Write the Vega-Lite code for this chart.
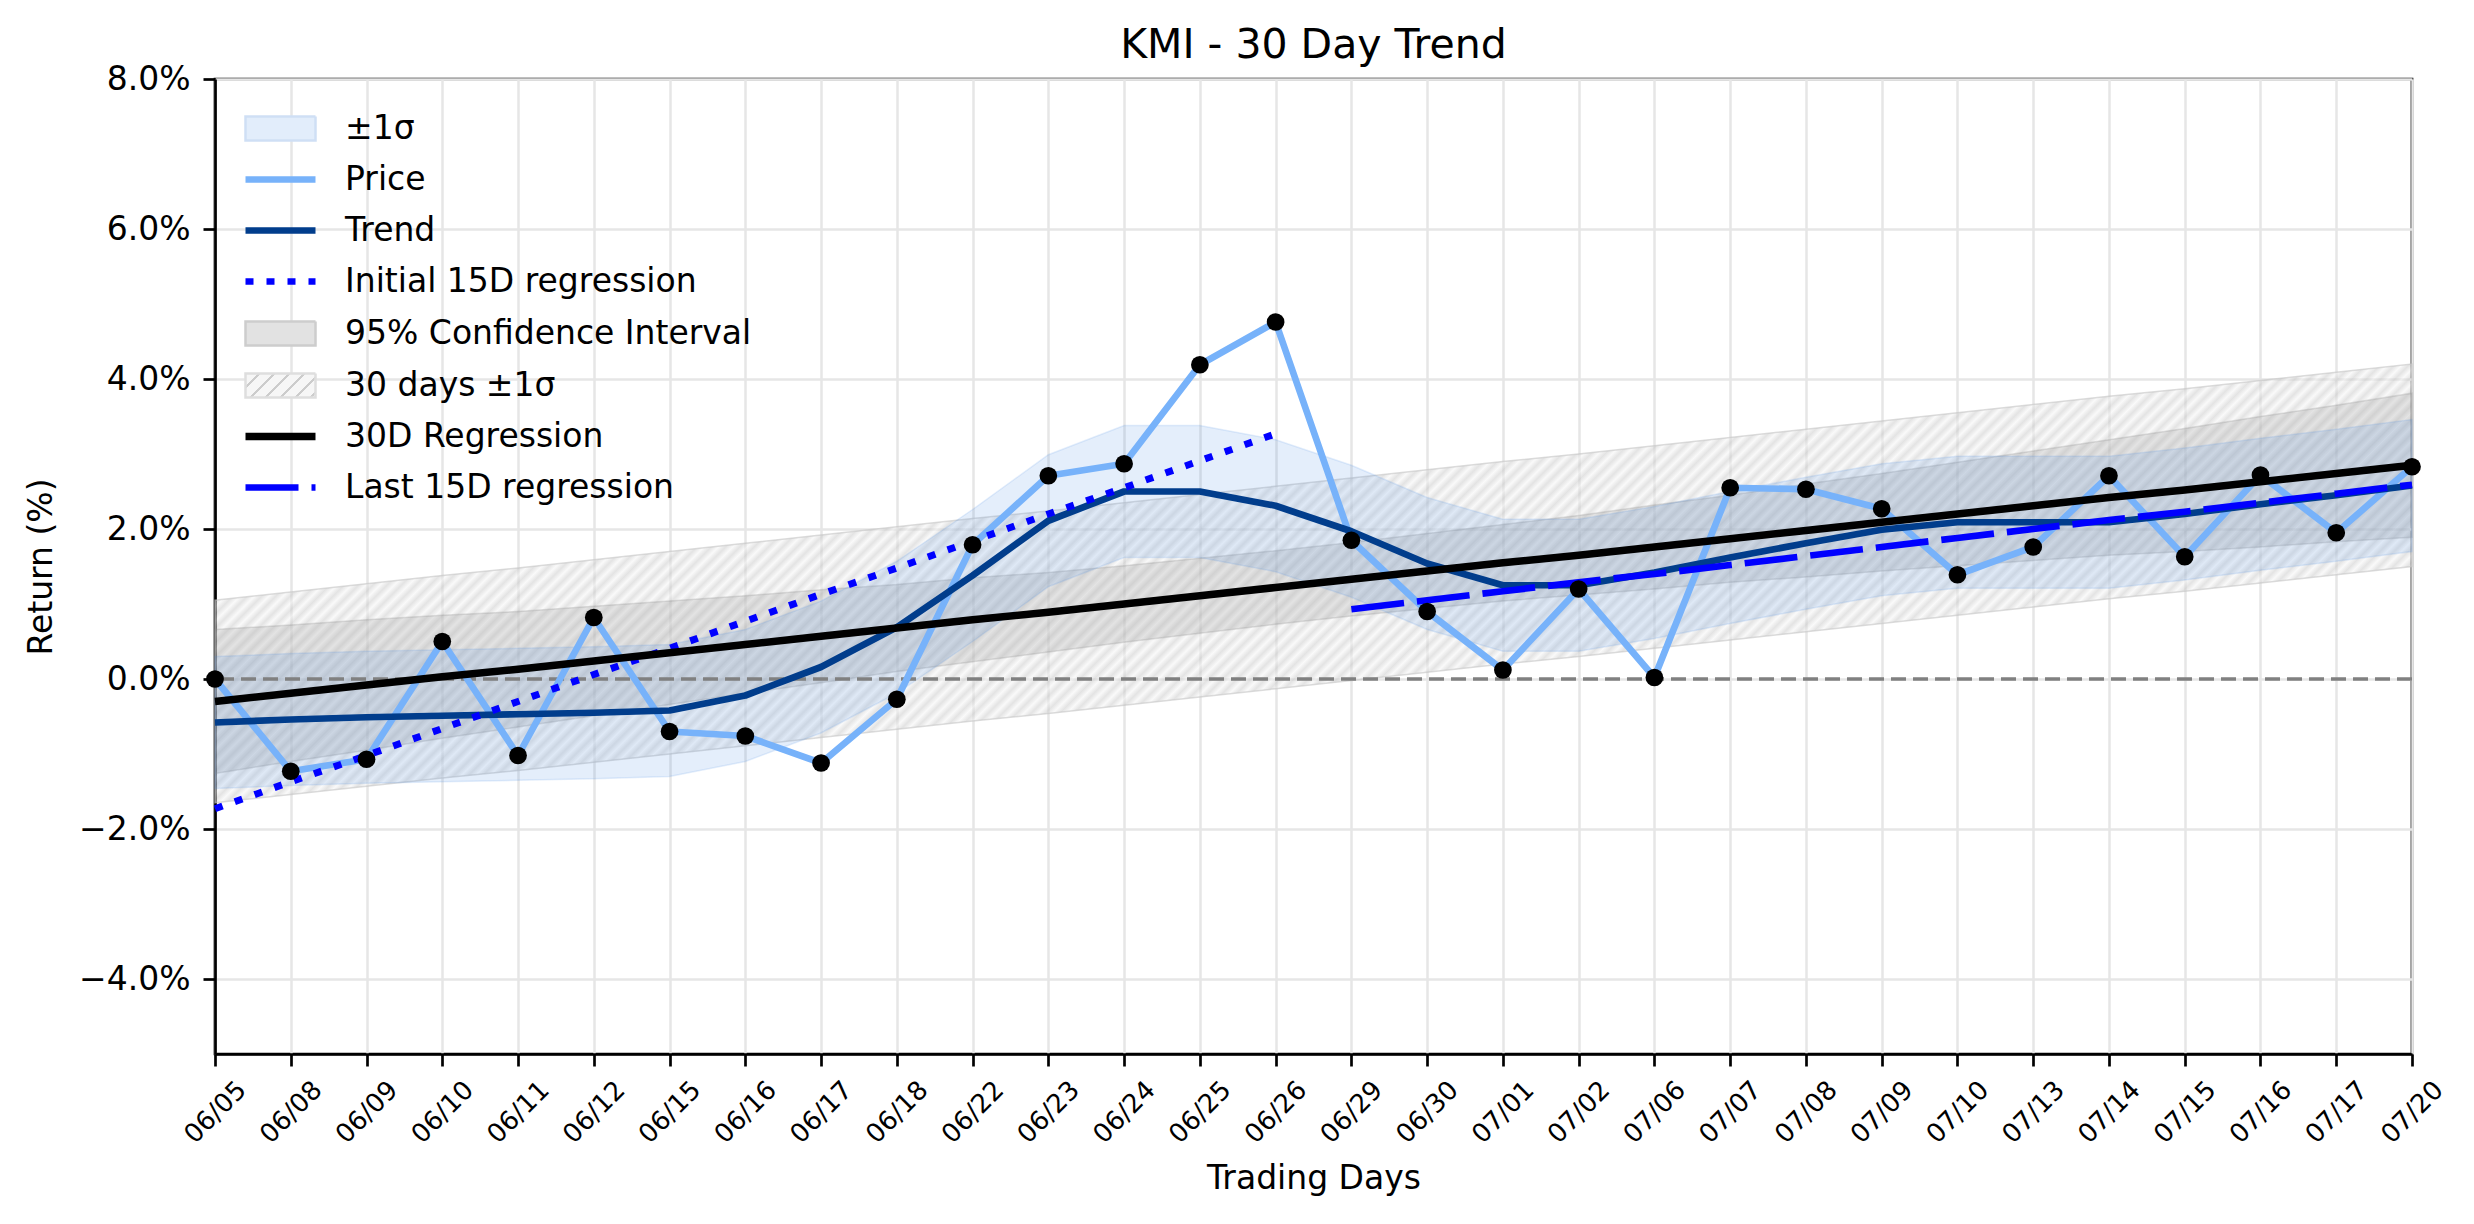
{
  "$schema": "https://vega.github.io/schema/vega-lite/v6.json",
  "width": 2197,
  "height": 975,
  "autosize": {"type": "none"},
  "padding": {"left": 215, "top": 79, "right": 62, "bottom": 170},
  "background": "white",
  "title": {"text": "KMI - 30 Day Trend", "frame": "group", "anchor": "middle", "fontSize": 41, "font": "DejaVu Sans", "fontWeight": "normal", "color": "black", "baseline": "alphabetic", "offset": 21, "dy": 57},
  "config": {
    "view": {"stroke": "black", "strokeWidth": 2.7},
    "font": "DejaVu Sans",
    "axis": {"labelFont": "DejaVu Sans", "titleFont": "DejaVu Sans", "labelColor": "black", "titleColor": "black", "titleFontWeight": "normal", "titleFontSize": 33, "tickColor": "black", "tickWidth": 2.7, "tickSize": 12, "domainColor": "black", "domainWidth": 2.7, "gridColor": "#e6e6e6", "gridWidth": 2.5, "grid": true},
    "axisX": {"labelFontSize": 26, "labelAngle": -45, "labelAlign": "center", "labelBaseline": "middle", "labelPadding": 46, "titlePadding": 15, "labelOverlap": false, "labelFlush": false},
    "axisY": {"labelFontSize": 33, "labelPadding": 13, "titlePadding": 20}
  },
  "data": {"values": [
    {"date":"06/05","price":0.00,"trend":-0.58,"sdlo":-1.46,"sdhi":0.30,"reg":-0.30,"cilo":-1.26,"cihi":0.66,"hlo":-1.65,"hhi":1.05,"init":-1.73,"last":null},
    {"date":"06/08","price":-1.23,"trend":-0.54,"sdlo":-1.42,"sdhi":0.34,"reg":-0.19,"cilo":-1.10,"cihi":0.72,"hlo":-1.54,"hhi":1.16,"init":-1.37,"last":null},
    {"date":"06/09","price":-1.07,"trend":-0.51,"sdlo":-1.39,"sdhi":0.37,"reg":-0.08,"cilo":-0.95,"cihi":0.79,"hlo":-1.43,"hhi":1.27,"init":-1.02,"last":null},
    {"date":"06/10","price":0.50,"trend":-0.49,"sdlo":-1.37,"sdhi":0.39,"reg":0.03,"cilo":-0.79,"cihi":0.85,"hlo":-1.32,"hhi":1.38,"init":-0.66,"last":null},
    {"date":"06/11","price":-1.02,"trend":-0.47,"sdlo":-1.35,"sdhi":0.41,"reg":0.13,"cilo":-0.64,"cihi":0.90,"hlo":-1.22,"hhi":1.48,"init":-0.30,"last":null},
    {"date":"06/12","price":0.82,"trend":-0.45,"sdlo":-1.33,"sdhi":0.43,"reg":0.24,"cilo":-0.49,"cihi":0.97,"hlo":-1.11,"hhi":1.59,"init":0.06,"last":null},
    {"date":"06/15","price":-0.70,"trend":-0.42,"sdlo":-1.30,"sdhi":0.46,"reg":0.35,"cilo":-0.34,"cihi":1.04,"hlo":-1.00,"hhi":1.70,"init":0.41,"last":null},
    {"date":"06/16","price":-0.76,"trend":-0.22,"sdlo":-1.10,"sdhi":0.66,"reg":0.46,"cilo":-0.19,"cihi":1.11,"hlo":-0.89,"hhi":1.81,"init":0.77,"last":null},
    {"date":"06/17","price":-1.12,"trend":0.16,"sdlo":-0.72,"sdhi":1.04,"reg":0.57,"cilo":-0.05,"cihi":1.19,"hlo":-0.78,"hhi":1.92,"init":1.13,"last":null},
    {"date":"06/18","price":-0.27,"trend":0.69,"sdlo":-0.19,"sdhi":1.57,"reg":0.68,"cilo":0.10,"cihi":1.26,"hlo":-0.67,"hhi":2.03,"init":1.48,"last":null},
    {"date":"06/22","price":1.79,"trend":1.38,"sdlo":0.50,"sdhi":2.26,"reg":0.79,"cilo":0.23,"cihi":1.35,"hlo":-0.56,"hhi":2.14,"init":1.84,"last":null},
    {"date":"06/23","price":2.71,"trend":2.11,"sdlo":1.23,"sdhi":2.99,"reg":0.89,"cilo":0.36,"cihi":1.42,"hlo":-0.46,"hhi":2.24,"init":2.20,"last":null},
    {"date":"06/24","price":2.87,"trend":2.50,"sdlo":1.62,"sdhi":3.38,"reg":1.00,"cilo":0.49,"cihi":1.51,"hlo":-0.35,"hhi":2.35,"init":2.55,"last":null},
    {"date":"06/25","price":4.19,"trend":2.50,"sdlo":1.62,"sdhi":3.38,"reg":1.11,"cilo":0.61,"cihi":1.61,"hlo":-0.24,"hhi":2.46,"init":2.91,"last":null},
    {"date":"06/26","price":4.76,"trend":2.31,"sdlo":1.43,"sdhi":3.19,"reg":1.22,"cilo":0.73,"cihi":1.71,"hlo":-0.13,"hhi":2.57,"init":3.27,"last":null},
    {"date":"06/29","price":1.85,"trend":1.97,"sdlo":1.09,"sdhi":2.85,"reg":1.33,"cilo":0.84,"cihi":1.82,"hlo":-0.02,"hhi":2.68,"init":null,"last":0.93},
    {"date":"06/30","price":0.90,"trend":1.54,"sdlo":0.66,"sdhi":2.42,"reg":1.44,"cilo":0.94,"cihi":1.94,"hlo":0.09,"hhi":2.79,"init":null,"last":1.05},
    {"date":"07/01","price":0.12,"trend":1.25,"sdlo":0.37,"sdhi":2.13,"reg":1.55,"cilo":1.04,"cihi":2.06,"hlo":0.20,"hhi":2.90,"init":null,"last":1.17},
    {"date":"07/02","price":1.20,"trend":1.25,"sdlo":0.37,"sdhi":2.13,"reg":1.65,"cilo":1.12,"cihi":2.18,"hlo":0.30,"hhi":3.00,"init":null,"last":1.29},
    {"date":"07/06","price":0.02,"trend":1.42,"sdlo":0.54,"sdhi":2.30,"reg":1.76,"cilo":1.20,"cihi":2.32,"hlo":0.41,"hhi":3.11,"init":null,"last":1.40},
    {"date":"07/07","price":2.55,"trend":1.62,"sdlo":0.74,"sdhi":2.50,"reg":1.87,"cilo":1.29,"cihi":2.45,"hlo":0.52,"hhi":3.22,"init":null,"last":1.52},
    {"date":"07/08","price":2.53,"trend":1.81,"sdlo":0.93,"sdhi":2.69,"reg":1.98,"cilo":1.36,"cihi":2.60,"hlo":0.63,"hhi":3.33,"init":null,"last":1.64},
    {"date":"07/09","price":2.27,"trend":1.99,"sdlo":1.11,"sdhi":2.87,"reg":2.09,"cilo":1.44,"cihi":2.74,"hlo":0.74,"hhi":3.44,"init":null,"last":1.76},
    {"date":"07/10","price":1.39,"trend":2.09,"sdlo":1.21,"sdhi":2.97,"reg":2.20,"cilo":1.51,"cihi":2.89,"hlo":0.85,"hhi":3.55,"init":null,"last":1.88},
    {"date":"07/13","price":1.76,"trend":2.09,"sdlo":1.21,"sdhi":2.97,"reg":2.31,"cilo":1.58,"cihi":3.04,"hlo":0.96,"hhi":3.66,"init":null,"last":2.00},
    {"date":"07/14","price":2.71,"trend":2.09,"sdlo":1.21,"sdhi":2.97,"reg":2.42,"cilo":1.65,"cihi":3.19,"hlo":1.07,"hhi":3.77,"init":null,"last":2.12},
    {"date":"07/15","price":1.63,"trend":2.20,"sdlo":1.32,"sdhi":3.08,"reg":2.52,"cilo":1.70,"cihi":3.34,"hlo":1.17,"hhi":3.87,"init":null,"last":2.23},
    {"date":"07/16","price":2.72,"trend":2.33,"sdlo":1.45,"sdhi":3.21,"reg":2.63,"cilo":1.76,"cihi":3.50,"hlo":1.28,"hhi":3.98,"init":null,"last":2.35},
    {"date":"07/17","price":1.95,"trend":2.45,"sdlo":1.57,"sdhi":3.33,"reg":2.74,"cilo":1.83,"cihi":3.65,"hlo":1.39,"hhi":4.09,"init":null,"last":2.47},
    {"date":"07/20","price":2.83,"trend":2.58,"sdlo":1.70,"sdhi":3.46,"reg":2.85,"cilo":1.89,"cihi":3.81,"hlo":1.50,"hhi":4.20,"init":null,"last":2.59}
  ]},
  "layer": [
    {
      "mark": {"type": "area", "fillOpacity": 0.5, "stroke": "#c4c4c4", "strokeOpacity": 0.6, "strokeWidth": 1.5,
        "fill": {"gradient": "linear", "x1": 0, "y1": 0, "x2": 1.2518, "y2": 0.25, "stops": [
{"offset":0.00,"color":"#f4f4f4"},{"offset":0.0025,"color":"#c8c8c8"},{"offset":0.005,"color":"#f4f4f4"},{"offset":0.0075,"color":"#c8c8c8"},
{"offset":0.01,"color":"#f4f4f4"},{"offset":0.0125,"color":"#c8c8c8"},{"offset":0.015,"color":"#f4f4f4"},{"offset":0.0175,"color":"#c8c8c8"},
{"offset":0.02,"color":"#f4f4f4"},{"offset":0.0225,"color":"#c8c8c8"},{"offset":0.025,"color":"#f4f4f4"},{"offset":0.0275,"color":"#c8c8c8"},
{"offset":0.03,"color":"#f4f4f4"},{"offset":0.0325,"color":"#c8c8c8"},{"offset":0.035,"color":"#f4f4f4"},{"offset":0.0375,"color":"#c8c8c8"},
{"offset":0.04,"color":"#f4f4f4"},{"offset":0.0425,"color":"#c8c8c8"},{"offset":0.045,"color":"#f4f4f4"},{"offset":0.0475,"color":"#c8c8c8"},
{"offset":0.05,"color":"#f4f4f4"},{"offset":0.0525,"color":"#c8c8c8"},{"offset":0.055,"color":"#f4f4f4"},{"offset":0.0575,"color":"#c8c8c8"},
{"offset":0.06,"color":"#f4f4f4"},{"offset":0.0625,"color":"#c8c8c8"},{"offset":0.065,"color":"#f4f4f4"},{"offset":0.0675,"color":"#c8c8c8"},
{"offset":0.07,"color":"#f4f4f4"},{"offset":0.0725,"color":"#c8c8c8"},{"offset":0.075,"color":"#f4f4f4"},{"offset":0.0775,"color":"#c8c8c8"},
{"offset":0.08,"color":"#f4f4f4"},{"offset":0.0825,"color":"#c8c8c8"},{"offset":0.085,"color":"#f4f4f4"},{"offset":0.0875,"color":"#c8c8c8"},
{"offset":0.09,"color":"#f4f4f4"},{"offset":0.0925,"color":"#c8c8c8"},{"offset":0.095,"color":"#f4f4f4"},{"offset":0.0975,"color":"#c8c8c8"},
{"offset":0.10,"color":"#f4f4f4"},{"offset":0.1025,"color":"#c8c8c8"},{"offset":0.105,"color":"#f4f4f4"},{"offset":0.1075,"color":"#c8c8c8"},
{"offset":0.11,"color":"#f4f4f4"},{"offset":0.1125,"color":"#c8c8c8"},{"offset":0.115,"color":"#f4f4f4"},{"offset":0.1175,"color":"#c8c8c8"},
{"offset":0.12,"color":"#f4f4f4"},{"offset":0.1225,"color":"#c8c8c8"},{"offset":0.125,"color":"#f4f4f4"},{"offset":0.1275,"color":"#c8c8c8"},
{"offset":0.13,"color":"#f4f4f4"},{"offset":0.1325,"color":"#c8c8c8"},{"offset":0.135,"color":"#f4f4f4"},{"offset":0.1375,"color":"#c8c8c8"},
{"offset":0.14,"color":"#f4f4f4"},{"offset":0.1425,"color":"#c8c8c8"},{"offset":0.145,"color":"#f4f4f4"},{"offset":0.1475,"color":"#c8c8c8"},
{"offset":0.15,"color":"#f4f4f4"},{"offset":0.1525,"color":"#c8c8c8"},{"offset":0.155,"color":"#f4f4f4"},{"offset":0.1575,"color":"#c8c8c8"},
{"offset":0.16,"color":"#f4f4f4"},{"offset":0.1625,"color":"#c8c8c8"},{"offset":0.165,"color":"#f4f4f4"},{"offset":0.1675,"color":"#c8c8c8"},
{"offset":0.17,"color":"#f4f4f4"},{"offset":0.1725,"color":"#c8c8c8"},{"offset":0.175,"color":"#f4f4f4"},{"offset":0.1775,"color":"#c8c8c8"},
{"offset":0.18,"color":"#f4f4f4"},{"offset":0.1825,"color":"#c8c8c8"},{"offset":0.185,"color":"#f4f4f4"},{"offset":0.1875,"color":"#c8c8c8"},
{"offset":0.19,"color":"#f4f4f4"},{"offset":0.1925,"color":"#c8c8c8"},{"offset":0.195,"color":"#f4f4f4"},{"offset":0.1975,"color":"#c8c8c8"},
{"offset":0.20,"color":"#f4f4f4"},{"offset":0.2025,"color":"#c8c8c8"},{"offset":0.205,"color":"#f4f4f4"},{"offset":0.2075,"color":"#c8c8c8"},
{"offset":0.21,"color":"#f4f4f4"},{"offset":0.2125,"color":"#c8c8c8"},{"offset":0.215,"color":"#f4f4f4"},{"offset":0.2175,"color":"#c8c8c8"},
{"offset":0.22,"color":"#f4f4f4"},{"offset":0.2225,"color":"#c8c8c8"},{"offset":0.225,"color":"#f4f4f4"},{"offset":0.2275,"color":"#c8c8c8"},
{"offset":0.23,"color":"#f4f4f4"},{"offset":0.2325,"color":"#c8c8c8"},{"offset":0.235,"color":"#f4f4f4"},{"offset":0.2375,"color":"#c8c8c8"},
{"offset":0.24,"color":"#f4f4f4"},{"offset":0.2425,"color":"#c8c8c8"},{"offset":0.245,"color":"#f4f4f4"},{"offset":0.2475,"color":"#c8c8c8"},
{"offset":0.25,"color":"#f4f4f4"},{"offset":0.2525,"color":"#c8c8c8"},{"offset":0.255,"color":"#f4f4f4"},{"offset":0.2575,"color":"#c8c8c8"},
{"offset":0.26,"color":"#f4f4f4"},{"offset":0.2625,"color":"#c8c8c8"},{"offset":0.265,"color":"#f4f4f4"},{"offset":0.2675,"color":"#c8c8c8"},
{"offset":0.27,"color":"#f4f4f4"},{"offset":0.2725,"color":"#c8c8c8"},{"offset":0.275,"color":"#f4f4f4"},{"offset":0.2775,"color":"#c8c8c8"},
{"offset":0.28,"color":"#f4f4f4"},{"offset":0.2825,"color":"#c8c8c8"},{"offset":0.285,"color":"#f4f4f4"},{"offset":0.2875,"color":"#c8c8c8"},
{"offset":0.29,"color":"#f4f4f4"},{"offset":0.2925,"color":"#c8c8c8"},{"offset":0.295,"color":"#f4f4f4"},{"offset":0.2975,"color":"#c8c8c8"},
{"offset":0.30,"color":"#f4f4f4"},{"offset":0.3025,"color":"#c8c8c8"},{"offset":0.305,"color":"#f4f4f4"},{"offset":0.3075,"color":"#c8c8c8"},
{"offset":0.31,"color":"#f4f4f4"},{"offset":0.3125,"color":"#c8c8c8"},{"offset":0.315,"color":"#f4f4f4"},{"offset":0.3175,"color":"#c8c8c8"},
{"offset":0.32,"color":"#f4f4f4"},{"offset":0.3225,"color":"#c8c8c8"},{"offset":0.325,"color":"#f4f4f4"},{"offset":0.3275,"color":"#c8c8c8"},
{"offset":0.33,"color":"#f4f4f4"},{"offset":0.3325,"color":"#c8c8c8"},{"offset":0.335,"color":"#f4f4f4"},{"offset":0.3375,"color":"#c8c8c8"},
{"offset":0.34,"color":"#f4f4f4"},{"offset":0.3425,"color":"#c8c8c8"},{"offset":0.345,"color":"#f4f4f4"},{"offset":0.3475,"color":"#c8c8c8"},
{"offset":0.35,"color":"#f4f4f4"},{"offset":0.3525,"color":"#c8c8c8"},{"offset":0.355,"color":"#f4f4f4"},{"offset":0.3575,"color":"#c8c8c8"},
{"offset":0.36,"color":"#f4f4f4"},{"offset":0.3625,"color":"#c8c8c8"},{"offset":0.365,"color":"#f4f4f4"},{"offset":0.3675,"color":"#c8c8c8"},
{"offset":0.37,"color":"#f4f4f4"},{"offset":0.3725,"color":"#c8c8c8"},{"offset":0.375,"color":"#f4f4f4"},{"offset":0.3775,"color":"#c8c8c8"},
{"offset":0.38,"color":"#f4f4f4"},{"offset":0.3825,"color":"#c8c8c8"},{"offset":0.385,"color":"#f4f4f4"},{"offset":0.3875,"color":"#c8c8c8"},
{"offset":0.39,"color":"#f4f4f4"},{"offset":0.3925,"color":"#c8c8c8"},{"offset":0.395,"color":"#f4f4f4"},{"offset":0.3975,"color":"#c8c8c8"},
{"offset":0.40,"color":"#f4f4f4"},{"offset":0.4025,"color":"#c8c8c8"},{"offset":0.405,"color":"#f4f4f4"},{"offset":0.4075,"color":"#c8c8c8"},
{"offset":0.41,"color":"#f4f4f4"},{"offset":0.4125,"color":"#c8c8c8"},{"offset":0.415,"color":"#f4f4f4"},{"offset":0.4175,"color":"#c8c8c8"},
{"offset":0.42,"color":"#f4f4f4"},{"offset":0.4225,"color":"#c8c8c8"},{"offset":0.425,"color":"#f4f4f4"},{"offset":0.4275,"color":"#c8c8c8"},
{"offset":0.43,"color":"#f4f4f4"},{"offset":0.4325,"color":"#c8c8c8"},{"offset":0.435,"color":"#f4f4f4"},{"offset":0.4375,"color":"#c8c8c8"},
{"offset":0.44,"color":"#f4f4f4"},{"offset":0.4425,"color":"#c8c8c8"},{"offset":0.445,"color":"#f4f4f4"},{"offset":0.4475,"color":"#c8c8c8"},
{"offset":0.45,"color":"#f4f4f4"},{"offset":0.4525,"color":"#c8c8c8"},{"offset":0.455,"color":"#f4f4f4"},{"offset":0.4575,"color":"#c8c8c8"},
{"offset":0.46,"color":"#f4f4f4"},{"offset":0.4625,"color":"#c8c8c8"},{"offset":0.465,"color":"#f4f4f4"},{"offset":0.4675,"color":"#c8c8c8"},
{"offset":0.47,"color":"#f4f4f4"},{"offset":0.4725,"color":"#c8c8c8"},{"offset":0.475,"color":"#f4f4f4"},{"offset":0.4775,"color":"#c8c8c8"},
{"offset":0.48,"color":"#f4f4f4"},{"offset":0.4825,"color":"#c8c8c8"},{"offset":0.485,"color":"#f4f4f4"},{"offset":0.4875,"color":"#c8c8c8"},
{"offset":0.49,"color":"#f4f4f4"},{"offset":0.4925,"color":"#c8c8c8"},{"offset":0.495,"color":"#f4f4f4"},{"offset":0.4975,"color":"#c8c8c8"},
{"offset":0.50,"color":"#f4f4f4"},{"offset":0.5025,"color":"#c8c8c8"},{"offset":0.505,"color":"#f4f4f4"},{"offset":0.5075,"color":"#c8c8c8"},
{"offset":0.51,"color":"#f4f4f4"},{"offset":0.5125,"color":"#c8c8c8"},{"offset":0.515,"color":"#f4f4f4"},{"offset":0.5175,"color":"#c8c8c8"},
{"offset":0.52,"color":"#f4f4f4"},{"offset":0.5225,"color":"#c8c8c8"},{"offset":0.525,"color":"#f4f4f4"},{"offset":0.5275,"color":"#c8c8c8"},
{"offset":0.53,"color":"#f4f4f4"},{"offset":0.5325,"color":"#c8c8c8"},{"offset":0.535,"color":"#f4f4f4"},{"offset":0.5375,"color":"#c8c8c8"},
{"offset":0.54,"color":"#f4f4f4"},{"offset":0.5425,"color":"#c8c8c8"},{"offset":0.545,"color":"#f4f4f4"},{"offset":0.5475,"color":"#c8c8c8"},
{"offset":0.55,"color":"#f4f4f4"},{"offset":0.5525,"color":"#c8c8c8"},{"offset":0.555,"color":"#f4f4f4"},{"offset":0.5575,"color":"#c8c8c8"},
{"offset":0.56,"color":"#f4f4f4"},{"offset":0.5625,"color":"#c8c8c8"},{"offset":0.565,"color":"#f4f4f4"},{"offset":0.5675,"color":"#c8c8c8"},
{"offset":0.57,"color":"#f4f4f4"},{"offset":0.5725,"color":"#c8c8c8"},{"offset":0.575,"color":"#f4f4f4"},{"offset":0.5775,"color":"#c8c8c8"},
{"offset":0.58,"color":"#f4f4f4"},{"offset":0.5825,"color":"#c8c8c8"},{"offset":0.585,"color":"#f4f4f4"},{"offset":0.5875,"color":"#c8c8c8"},
{"offset":0.59,"color":"#f4f4f4"},{"offset":0.5925,"color":"#c8c8c8"},{"offset":0.595,"color":"#f4f4f4"},{"offset":0.5975,"color":"#c8c8c8"},
{"offset":0.60,"color":"#f4f4f4"},{"offset":0.6025,"color":"#c8c8c8"},{"offset":0.605,"color":"#f4f4f4"},{"offset":0.6075,"color":"#c8c8c8"},
{"offset":0.61,"color":"#f4f4f4"},{"offset":0.6125,"color":"#c8c8c8"},{"offset":0.615,"color":"#f4f4f4"},{"offset":0.6175,"color":"#c8c8c8"},
{"offset":0.62,"color":"#f4f4f4"},{"offset":0.6225,"color":"#c8c8c8"},{"offset":0.625,"color":"#f4f4f4"},{"offset":0.6275,"color":"#c8c8c8"},
{"offset":0.63,"color":"#f4f4f4"},{"offset":0.6325,"color":"#c8c8c8"},{"offset":0.635,"color":"#f4f4f4"},{"offset":0.6375,"color":"#c8c8c8"},
{"offset":0.64,"color":"#f4f4f4"},{"offset":0.6425,"color":"#c8c8c8"},{"offset":0.645,"color":"#f4f4f4"},{"offset":0.6475,"color":"#c8c8c8"},
{"offset":0.65,"color":"#f4f4f4"},{"offset":0.6525,"color":"#c8c8c8"},{"offset":0.655,"color":"#f4f4f4"},{"offset":0.6575,"color":"#c8c8c8"},
{"offset":0.66,"color":"#f4f4f4"},{"offset":0.6625,"color":"#c8c8c8"},{"offset":0.665,"color":"#f4f4f4"},{"offset":0.6675,"color":"#c8c8c8"},
{"offset":0.67,"color":"#f4f4f4"},{"offset":0.6725,"color":"#c8c8c8"},{"offset":0.675,"color":"#f4f4f4"},{"offset":0.6775,"color":"#c8c8c8"},
{"offset":0.68,"color":"#f4f4f4"},{"offset":0.6825,"color":"#c8c8c8"},{"offset":0.685,"color":"#f4f4f4"},{"offset":0.6875,"color":"#c8c8c8"},
{"offset":0.69,"color":"#f4f4f4"},{"offset":0.6925,"color":"#c8c8c8"},{"offset":0.695,"color":"#f4f4f4"},{"offset":0.6975,"color":"#c8c8c8"},
{"offset":0.70,"color":"#f4f4f4"},{"offset":0.7025,"color":"#c8c8c8"},{"offset":0.705,"color":"#f4f4f4"},{"offset":0.7075,"color":"#c8c8c8"},
{"offset":0.71,"color":"#f4f4f4"},{"offset":0.7125,"color":"#c8c8c8"},{"offset":0.715,"color":"#f4f4f4"},{"offset":0.7175,"color":"#c8c8c8"},
{"offset":0.72,"color":"#f4f4f4"},{"offset":0.7225,"color":"#c8c8c8"},{"offset":0.725,"color":"#f4f4f4"},{"offset":0.7275,"color":"#c8c8c8"},
{"offset":0.73,"color":"#f4f4f4"},{"offset":0.7325,"color":"#c8c8c8"},{"offset":0.735,"color":"#f4f4f4"},{"offset":0.7375,"color":"#c8c8c8"},
{"offset":0.74,"color":"#f4f4f4"},{"offset":0.7425,"color":"#c8c8c8"},{"offset":0.745,"color":"#f4f4f4"},{"offset":0.7475,"color":"#c8c8c8"},
{"offset":0.75,"color":"#f4f4f4"},{"offset":0.7525,"color":"#c8c8c8"},{"offset":0.755,"color":"#f4f4f4"},{"offset":0.7575,"color":"#c8c8c8"},
{"offset":0.76,"color":"#f4f4f4"},{"offset":0.7625,"color":"#c8c8c8"},{"offset":0.765,"color":"#f4f4f4"},{"offset":0.7675,"color":"#c8c8c8"},
{"offset":0.77,"color":"#f4f4f4"},{"offset":0.7725,"color":"#c8c8c8"},{"offset":0.775,"color":"#f4f4f4"},{"offset":0.7775,"color":"#c8c8c8"},
{"offset":0.78,"color":"#f4f4f4"},{"offset":0.7825,"color":"#c8c8c8"},{"offset":0.785,"color":"#f4f4f4"},{"offset":0.7875,"color":"#c8c8c8"},
{"offset":0.79,"color":"#f4f4f4"},{"offset":0.7925,"color":"#c8c8c8"},{"offset":0.795,"color":"#f4f4f4"},{"offset":0.7975,"color":"#c8c8c8"},
{"offset":0.80,"color":"#f4f4f4"},{"offset":0.8025,"color":"#c8c8c8"},{"offset":0.805,"color":"#f4f4f4"},{"offset":0.8075,"color":"#c8c8c8"},
{"offset":0.81,"color":"#f4f4f4"},{"offset":0.8125,"color":"#c8c8c8"},{"offset":0.815,"color":"#f4f4f4"},{"offset":0.8175,"color":"#c8c8c8"},
{"offset":0.82,"color":"#f4f4f4"},{"offset":0.8225,"color":"#c8c8c8"},{"offset":0.825,"color":"#f4f4f4"},{"offset":0.8275,"color":"#c8c8c8"},
{"offset":0.83,"color":"#f4f4f4"},{"offset":0.8325,"color":"#c8c8c8"},{"offset":0.835,"color":"#f4f4f4"},{"offset":0.8375,"color":"#c8c8c8"},
{"offset":0.84,"color":"#f4f4f4"},{"offset":0.8425,"color":"#c8c8c8"},{"offset":0.845,"color":"#f4f4f4"},{"offset":0.8475,"color":"#c8c8c8"},
{"offset":0.85,"color":"#f4f4f4"},{"offset":0.8525,"color":"#c8c8c8"},{"offset":0.855,"color":"#f4f4f4"},{"offset":0.8575,"color":"#c8c8c8"},
{"offset":0.86,"color":"#f4f4f4"},{"offset":0.8625,"color":"#c8c8c8"},{"offset":0.865,"color":"#f4f4f4"},{"offset":0.8675,"color":"#c8c8c8"},
{"offset":0.87,"color":"#f4f4f4"},{"offset":0.8725,"color":"#c8c8c8"},{"offset":0.875,"color":"#f4f4f4"},{"offset":0.8775,"color":"#c8c8c8"},
{"offset":0.88,"color":"#f4f4f4"},{"offset":0.8825,"color":"#c8c8c8"},{"offset":0.885,"color":"#f4f4f4"},{"offset":0.8875,"color":"#c8c8c8"},
{"offset":0.89,"color":"#f4f4f4"},{"offset":0.8925,"color":"#c8c8c8"},{"offset":0.895,"color":"#f4f4f4"},{"offset":0.8975,"color":"#c8c8c8"},
{"offset":0.90,"color":"#f4f4f4"},{"offset":0.9025,"color":"#c8c8c8"},{"offset":0.905,"color":"#f4f4f4"},{"offset":0.9075,"color":"#c8c8c8"},
{"offset":0.91,"color":"#f4f4f4"},{"offset":0.9125,"color":"#c8c8c8"},{"offset":0.915,"color":"#f4f4f4"},{"offset":0.9175,"color":"#c8c8c8"},
{"offset":0.92,"color":"#f4f4f4"},{"offset":0.9225,"color":"#c8c8c8"},{"offset":0.925,"color":"#f4f4f4"},{"offset":0.9275,"color":"#c8c8c8"},
{"offset":0.93,"color":"#f4f4f4"}
        ]}
      },
      "encoding": {
        "x": {"field": "date", "type": "ordinal", "sort": null, "scale": {"type": "point", "padding": 0}, "title": "Trading Days"},
        "y": {"field": "hlo", "type": "quantitative", "scale": {"domain": [-5, 8], "nice": false, "zero": false}, "title": "Return (%)",
          "axis": {"values": [-4, -2, 0, 2, 4, 6, 8], "labelExpr": "(datum.value < 0 ? '−' : '') + format(abs(datum.value), '.1f') + '%'"}},
        "y2": {"field": "hhi"}
      }
    },
    {
      "mark": {"type": "area", "fill": "#8c8c8c", "fillOpacity": 0.2, "stroke": "#8c8c8c", "strokeOpacity": 0.25, "strokeWidth": 1.5},
      "encoding": {
        "x": {"field": "date", "type": "ordinal", "sort": null, "scale": {"type": "point", "padding": 0}, "title": "Trading Days"},
        "y": {"field": "cilo", "type": "quantitative", "scale": {"domain": [-5, 8], "nice": false, "zero": false}, "title": "Return (%)"},
        "y2": {"field": "cihi"}
      }
    },
    {
      "mark": {"type": "area", "fill": "#4a90e2", "fillOpacity": 0.15, "stroke": "#4a90e2", "strokeOpacity": 0.15, "strokeWidth": 1.5},
      "encoding": {
        "x": {"field": "date", "type": "ordinal", "sort": null, "scale": {"type": "point", "padding": 0}, "title": "Trading Days"},
        "y": {"field": "sdlo", "type": "quantitative", "scale": {"domain": [-5, 8], "nice": false, "zero": false}, "title": "Return (%)"},
        "y2": {"field": "sdhi"}
      }
    },
    {
      "data": {"values": [{}]},
      "mark": {"type": "rule", "stroke": "#808080", "strokeWidth": 3.5, "strokeDash": [15, 7]},
      "encoding": {
        "y": {"datum": 0, "type": "quantitative", "scale": {"domain": [-5, 8], "nice": false, "zero": false}, "title": "Return (%)"}
      }
    },
    {
      "mark": {"type": "line", "strokeWidth": 6.7, "strokeJoin": "round", "strokeCap": "butt"},
      "encoding": {
        "x": {"field": "date", "type": "ordinal", "sort": null, "scale": {"type": "point", "padding": 0}, "title": "Trading Days"},
        "y": {"field": "price", "type": "quantitative", "scale": {"domain": [-5, 8], "nice": false, "zero": false}, "title": "Return (%)"},
        "color": {"datum": "Price", "type": "nominal",
          "scale": {"domain": ["±1σ", "Price", "Trend", "Initial 15D regression", "95% Confidence Interval", "30 days ±1σ", "30D Regression", "Last 15D regression"], "range": ["#cfdff5", "#77b2fa", "#013d8c", "#0000ff", "#cdcdcd", "#dedede", "#000000", "#0000ff"]},
          "legend": {
            "title": null, "orient": "none", "legendX": 49, "legendY": 33, "padding": 0, "rowPadding": 17,
            "labelFontSize": 33, "labelFont": "DejaVu Sans", "labelColor": "black", "labelLimit": 1000, "labelOffset": 48,
            "symbolSize": 1225,
            "encode": {"symbols": {"update": {
              "shape": {"signal": "indexof(['±1σ','95% Confidence Interval','30 days ±1σ'], datum.value) >= 0 ? 'M-2,-0.68H2V0.68H-2Z' : 'M-2,0H2'"},
              "fill": {"signal": "datum.value === '±1σ' ? '#e2edfb' : datum.value === '95% Confidence Interval' ? '#e2e2e2' : datum.value === '30 days ±1σ' ? {gradient: 'linear', x1: 0, y1: 0, x2: 1.2, y2: 0.408, stops: [{offset: 0, color: '#f6f6f6'}, {offset: 0.135, color: '#f6f6f6'}, {offset: 0.135, color: '#cccccc'}, {offset: 0.16, color: '#cccccc'}, {offset: 0.16, color: '#f6f6f6'}, {offset: 0.295, color: '#f6f6f6'}, {offset: 0.295, color: '#cccccc'}, {offset: 0.32, color: '#cccccc'}, {offset: 0.32, color: '#f6f6f6'}, {offset: 0.455, color: '#f6f6f6'}, {offset: 0.455, color: '#cccccc'}, {offset: 0.48, color: '#cccccc'}, {offset: 0.48, color: '#f6f6f6'}, {offset: 0.615, color: '#f6f6f6'}, {offset: 0.615, color: '#cccccc'}, {offset: 0.64, color: '#cccccc'}, {offset: 0.64, color: '#f6f6f6'}, {offset: 0.775, color: '#f6f6f6'}, {offset: 0.775, color: '#cccccc'}, {offset: 0.8, color: '#cccccc'}, {offset: 0.8, color: '#f6f6f6'}, {offset: 0.935, color: '#f6f6f6'}, {offset: 0.935, color: '#cccccc'}, {offset: 0.96, color: '#cccccc'}, {offset: 0.96, color: '#f6f6f6'}, {offset: 1, color: '#f6f6f6'}]} : 'transparent'"},
              "strokeWidth": {"signal": "indexof(['±1σ','95% Confidence Interval','30 days ±1σ'], datum.value) >= 0 ? 2.5 : datum.value === '30D Regression' ? 7.5 : 6.7"},
              "strokeDash": {"signal": "datum.value === 'Initial 15D regression' ? [8, 13] : datum.value === 'Last 15D regression' ? [53, 13] : [1, 0]"},
              "opacity": {"value": 1}
            }}}
          }
        }
      }
    },
    {
      "mark": {"type": "line", "strokeWidth": 6.7, "strokeJoin": "round", "strokeCap": "butt"},
      "encoding": {
        "x": {"field": "date", "type": "ordinal", "sort": null, "scale": {"type": "point", "padding": 0}, "title": "Trading Days"},
        "y": {"field": "trend", "type": "quantitative", "scale": {"domain": [-5, 8], "nice": false, "zero": false}, "title": "Return (%)"},
        "color": {"datum": "Trend", "type": "nominal",
          "scale": {"domain": ["±1σ", "Price", "Trend", "Initial 15D regression", "95% Confidence Interval", "30 days ±1σ", "30D Regression", "Last 15D regression"], "range": ["#cfdff5", "#77b2fa", "#013d8c", "#0000ff", "#cdcdcd", "#dedede", "#000000", "#0000ff"]}}
      }
    },
    {
      "mark": {"type": "line", "strokeWidth": 7, "strokeDash": [8, 13], "strokeCap": "butt"},
      "encoding": {
        "x": {"field": "date", "type": "ordinal", "sort": null, "scale": {"type": "point", "padding": 0}, "title": "Trading Days"},
        "y": {"field": "init", "type": "quantitative", "scale": {"domain": [-5, 8], "nice": false, "zero": false}, "title": "Return (%)"},
        "color": {"datum": "Initial 15D regression", "type": "nominal",
          "scale": {"domain": ["±1σ", "Price", "Trend", "Initial 15D regression", "95% Confidence Interval", "30 days ±1σ", "30D Regression", "Last 15D regression"], "range": ["#cfdff5", "#77b2fa", "#013d8c", "#0000ff", "#cdcdcd", "#dedede", "#000000", "#0000ff"]}}
      }
    },
    {
      "mark": {"type": "line", "strokeWidth": 7.5, "strokeCap": "butt"},
      "encoding": {
        "x": {"field": "date", "type": "ordinal", "sort": null, "scale": {"type": "point", "padding": 0}, "title": "Trading Days"},
        "y": {"field": "reg", "type": "quantitative", "scale": {"domain": [-5, 8], "nice": false, "zero": false}, "title": "Return (%)"},
        "color": {"datum": "30D Regression", "type": "nominal",
          "scale": {"domain": ["±1σ", "Price", "Trend", "Initial 15D regression", "95% Confidence Interval", "30 days ±1σ", "30D Regression", "Last 15D regression"], "range": ["#cfdff5", "#77b2fa", "#013d8c", "#0000ff", "#cdcdcd", "#dedede", "#000000", "#0000ff"]}}
      }
    },
    {
      "mark": {"type": "line", "strokeWidth": 6.7, "strokeDash": [53, 13], "strokeCap": "butt"},
      "encoding": {
        "x": {"field": "date", "type": "ordinal", "sort": null, "scale": {"type": "point", "padding": 0}, "title": "Trading Days"},
        "y": {"field": "last", "type": "quantitative", "scale": {"domain": [-5, 8], "nice": false, "zero": false}, "title": "Return (%)"},
        "color": {"datum": "Last 15D regression", "type": "nominal",
          "scale": {"domain": ["±1σ", "Price", "Trend", "Initial 15D regression", "95% Confidence Interval", "30 days ±1σ", "30D Regression", "Last 15D regression"], "range": ["#cfdff5", "#77b2fa", "#013d8c", "#0000ff", "#cdcdcd", "#dedede", "#000000", "#0000ff"]}}
      }
    },
    {
      "mark": {"type": "circle", "color": "black", "opacity": 1, "size": 314},
      "encoding": {
        "x": {"field": "date", "type": "ordinal", "sort": null, "scale": {"type": "point", "padding": 0}, "title": "Trading Days"},
        "y": {"field": "price", "type": "quantitative", "scale": {"domain": [-5, 8], "nice": false, "zero": false}, "title": "Return (%)"}
      }
    }
  ]
}
